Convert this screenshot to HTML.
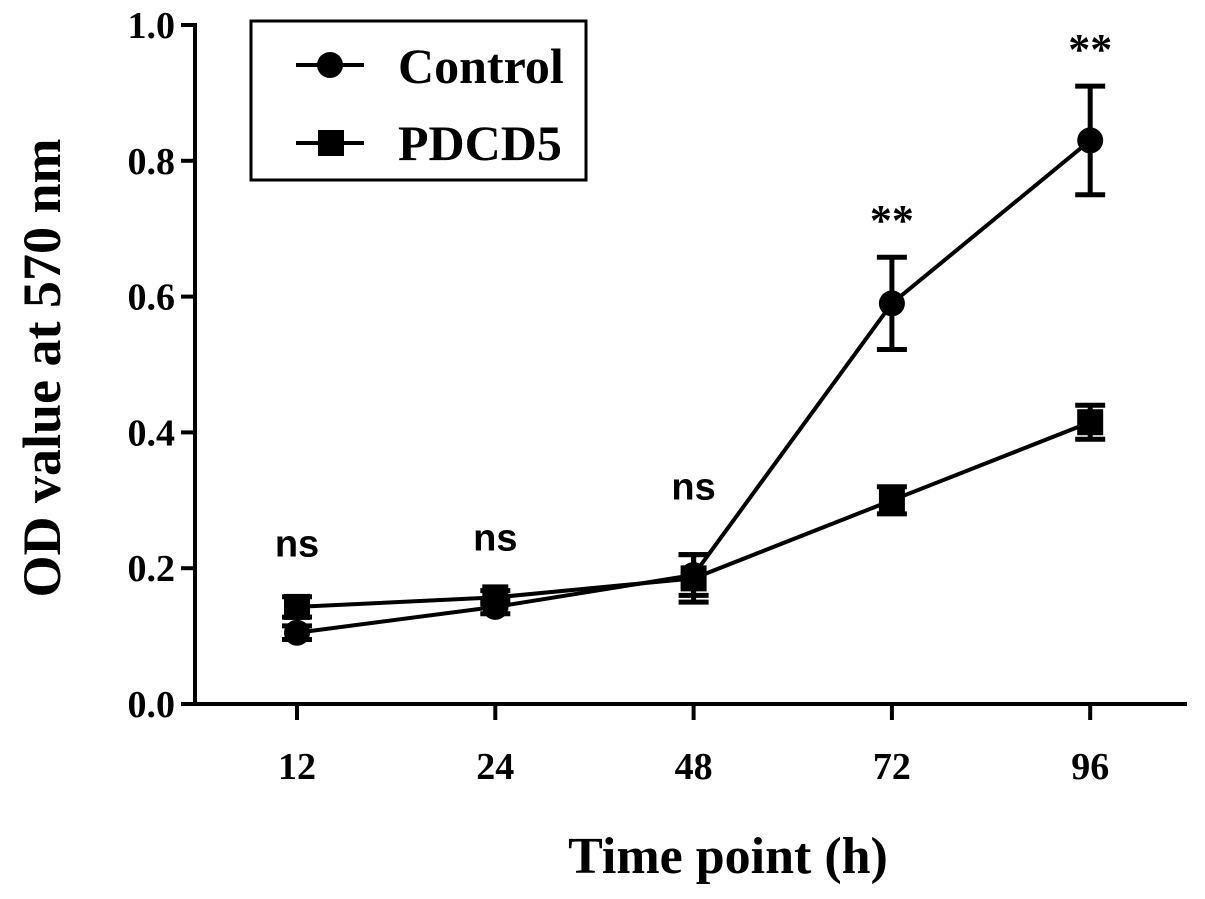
<!DOCTYPE html>
<html><head><meta charset="utf-8"><style>
body{margin:0;background:#fff;width:1205px;height:894px;overflow:hidden}
svg text{font-family:"Liberation Serif",serif;font-weight:bold;fill:#000}
</style></head><body>
<svg id="chart" width="1205" height="894" xmlns="http://www.w3.org/2000/svg"></svg>
<script>
const categories=["12","24","48","72","96"];
const controlValues=[0.105,0.143,0.19,0.59,0.83];
const controlErrors=[0.01,0.01,0.03,0.068,0.08];
const pdcd5Values=[0.143,0.157,0.185,0.30,0.415];
const pdcd5Errors=[0.015,0.01,0.035,0.02,0.025];
const sigLabels=["ns","ns","ns","**","**"];
const sigOffsets=[40,40,55,22,22];
const yTicks=[0.0,0.2,0.4,0.6,0.8,1.0];

const svg=document.getElementById('chart');
const NS='http://www.w3.org/2000/svg';
const x0=195,x1=1187,y0=704,y1=25;
function xs(i){return 297+i*198.3;}
function ys(v){return y0-(v-0)*(y0-y1)/1.0;}
function mk(tag,attrs,name,txt){const e=document.createElementNS(NS,tag);for(const k in attrs)e.setAttribute(k,attrs[k]);


if(txt!==undefined)e.textContent=txt;svg.appendChild(e);return e;}
mk('line',{x1:x0,y1:y1-2,x2:x0,y2:y0+2,stroke:'#000','stroke-width':4},'y-axis');
mk('line',{x1:x0-2,y1:y0,x2:x1,y2:y0,stroke:'#000','stroke-width':4},'x-axis');
yTicks.forEach(t=>{const y=ys(t);
mk('line',{x1:x0-14,y1:y,x2:x0,y2:y,stroke:'#000','stroke-width':4},'y-tick');
mk('text',{x:x0-20,y:y+13,'text-anchor':'end','font-size':38},'y-tick-label',t.toFixed(1));});
categories.forEach((c,i)=>{const x=xs(i);
mk('line',{x1:x,y1:y0,x2:x,y2:y0+16,stroke:'#000','stroke-width':4},'x-tick');
mk('text',{x:x,y:779,'text-anchor':'middle','font-size':38},'x-tick-label',c);});
mk('text',{x:728,y:873,'text-anchor':'middle','font-size':52},'x-axis-title','Time point (h)');
mk('text',{x:0,y:0,'text-anchor':'middle','font-size':54,transform:'translate(60,368) rotate(-90)'},'y-axis-title','OD value at 570 nm');
function series(vals,errs,shape,name){
 let d='';vals.forEach((v,i)=>{d+=(i?'L':'M')+xs(i)+' '+ys(v);});
 mk('path',{d:d,fill:'none',stroke:'#000','stroke-width':4},name+'-line');
 vals.forEach((v,i)=>{const x=xs(i),yt=ys(v+errs[i]),yb=ys(v-errs[i]);
  mk('path',{d:`M${x} ${yt}L${x} ${yb}M${x-15} ${yt}L${x+15} ${yt}M${x-15} ${yb}L${x+15} ${yb}`,stroke:'#000','stroke-width':5,fill:'none'},name+'-error-bar');
  if(shape==='circle')mk('circle',{cx:x,cy:ys(v),r:13,fill:'#000'},name+'-point');
  else mk('rect',{x:x-13,y:ys(v)-13,width:26,height:26,fill:'#000'},name+'-point');});
}
series(controlValues,controlErrors,'circle','control');
series(pdcd5Values,pdcd5Errors,'square','pdcd5');
sigLabels.forEach((s,i)=>{const top=Math.max(controlValues[i]+controlErrors[i],pdcd5Values[i]+pdcd5Errors[i]);
 const star=s==='**';
 mk('text',{x:xs(i),y:ys(top)-sigOffsets[i],'text-anchor':'middle','font-size':star?44:38,style:star?'':'font-family:"Liberation Sans",sans-serif'},'significance-label',s);});
mk('rect',{x:251,y:21,width:335,height:159,fill:'#fff',stroke:'#000','stroke-width':3},'legend-box');
mk('line',{x1:296,y1:65,x2:364,y2:65,stroke:'#000','stroke-width':4},'legend-control-line');
mk('circle',{cx:330,cy:65,r:13,fill:'#000'},'legend-control-marker');
mk('text',{x:398,y:83,'font-size':50},'legend-control-label','Control');
mk('line',{x1:296,y1:143,x2:364,y2:143,stroke:'#000','stroke-width':4},'legend-pdcd5-line');
mk('rect',{x:318,y:130,width:26,height:26,fill:'#000'},'legend-pdcd5-marker');
mk('text',{x:398,y:160,'font-size':50},'legend-pdcd5-label','PDCD5');
</script>
</body></html>
